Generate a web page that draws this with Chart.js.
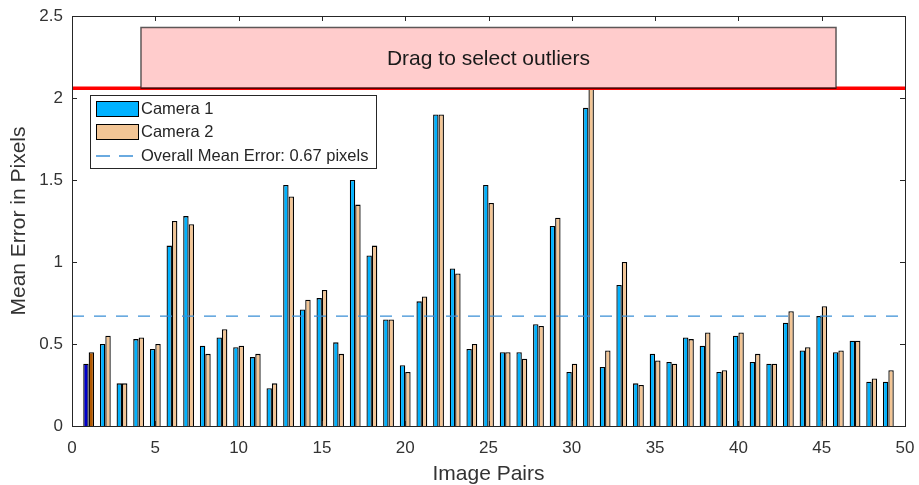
<!DOCTYPE html>
<html>
<head>
<meta charset="utf-8">
<script src="https://cdn.jsdelivr.net/npm/chart.js@4.4.1/dist/chart.umd.min.js"></script>
<style>
  body { margin: 0; background: #fff; }
  #wrap { width: 919px; height: 485px; }
</style>
</head>
<body>
<div id="wrap"><canvas id="errChart" width="919" height="485"></canvas></div>
<script>
// values
const imagePairs = [1, 2, 3, 4, 5, 6, 7, 8, 9, 10, 11, 12, 13, 14, 15, 16, 17, 18, 19, 20,
  21, 22, 23, 24, 25, 26, 27, 28, 29, 30, 31, 32, 33, 34, 35, 36, 37, 38, 39, 40,
  41, 42, 43, 44, 45, 46, 47, 48, 49];
const camera1Err = [0.38, 0.50, 0.26, 0.53, 0.47, 1.10, 1.28, 0.49, 0.54, 0.48,
  0.42, 0.23, 1.47, 0.71, 0.78, 0.51, 1.50, 1.04, 0.65, 0.37,
  0.76, 1.90, 0.96, 0.47, 1.47, 0.45, 0.45, 0.62, 1.22, 0.33,
  1.94, 0.36, 0.86, 0.26, 0.44, 0.39, 0.54, 0.49, 0.33, 0.55,
  0.39, 0.38, 0.63, 0.46, 0.67, 0.45, 0.52, 0.27, 0.27];
const camera2Err = [0.45, 0.55, 0.26, 0.54, 0.50, 1.25, 1.23, 0.44, 0.59, 0.49,
  0.44, 0.26, 1.40, 0.77, 0.83, 0.44, 1.35, 1.10, 0.65, 0.33,
  0.79, 1.90, 0.93, 0.50, 1.36, 0.45, 0.41, 0.61, 1.27, 0.38,
  2.06, 0.46, 1.00, 0.25, 0.40, 0.38, 0.53, 0.57, 0.34, 0.57,
  0.44, 0.38, 0.70, 0.48, 0.73, 0.46, 0.52, 0.29, 0.34];
const meanError = 0.67;
const outlierLevel = 2.06;
const selectBox = [4.14, 45.86, 2.06, 2.43]; // x0, x1, y0, y1 in data units
const xRange = [0, 50];
const yRange = [0, 2.5];

const selectedPair = 1;
const cam1Color = '#00b2ff', cam1Sel = '#0000cc';
const cam2Color = '#f2c595', cam2Sel = '#b35900';
const meanColor = '#3a8fd6';
const inkColor = '#333333';
const fontFam = '"Liberation Sans", Arial, sans-serif';

function pts(vals) {
  return imagePairs.map((p, i) => ({ x: p, y: vals[i] }));
}

// outlier band, legend, box and inward ticks
const overlay = {
  id: 'overlay',
  afterDatasetsDraw(chart) {
    const ctx = chart.ctx;
    const xs = chart.scales.x, ys = chart.scales.y;
    const a = chart.chartArea;

    // red threshold line
    const yr = ys.getPixelForValue(outlierLevel);
    ctx.save();
    ctx.strokeStyle = '#ff0000';
    ctx.lineWidth = 3.5;
    ctx.beginPath();
    ctx.moveTo(a.left, yr);
    ctx.lineTo(a.right, yr);
    ctx.stroke();

    // pink selection rectangle
    const rx0 = xs.getPixelForValue(selectBox[0]);
    const rx1 = xs.getPixelForValue(selectBox[1]);
    const ry0 = ys.getPixelForValue(selectBox[3]);
    const ry1 = ys.getPixelForValue(selectBox[2]);
    ctx.fillStyle = '#ffcccc';
    ctx.fillRect(rx0, ry0, rx1 - rx0, ry1 - ry0);
    ctx.strokeStyle = 'rgba(40,40,40,0.75)';
    ctx.lineWidth = 1.5;
    ctx.strokeRect(rx0, ry0, rx1 - rx0, ry1 - ry0);
    ctx.strokeStyle = 'rgba(90,0,0,0.9)';
    ctx.beginPath();
    ctx.moveTo(rx0, ry1);
    ctx.lineTo(rx1, ry1);
    ctx.stroke();
    ctx.fillStyle = '#1a1a1a';
    ctx.font = '21px ' + fontFam;
    ctx.textAlign = 'center';
    ctx.textBaseline = 'middle';
    ctx.fillText('Drag to select outliers', (rx0 + rx1) / 2, (ry0 + ry1) / 2 + 1);

    // legend
    const lx = a.left + 18, ly = a.top + 79;
    const lw = 286, lh = 73;
    ctx.fillStyle = '#ffffff';
    ctx.fillRect(lx, ly, lw, lh);
    ctx.strokeStyle = '#262626';
    ctx.lineWidth = 1;
    ctx.strokeRect(lx + 0.5, ly + 0.5, lw, lh);
    const items = [
      { label: 'Camera 1', color: cam1Color, cy: ly + 13 },
      { label: 'Camera 2', color: cam2Color, cy: ly + 36 }
    ];
    ctx.font = '16.5px ' + fontFam;
    ctx.textAlign = 'left';
    items.forEach(it => {
      ctx.fillStyle = it.color;
      ctx.fillRect(lx + 6, it.cy - 7, 42, 15);
      ctx.strokeStyle = '#000';
      ctx.lineWidth = 1;
      ctx.strokeRect(lx + 6.5, it.cy - 6.5, 42, 15);
      ctx.fillStyle = '#262626';
      ctx.fillText(it.label, lx + 51, it.cy + 1);
    });
    const dy = ly + 61;
    ctx.strokeStyle = meanColor;
    ctx.lineWidth = 1.4;
    ctx.setLineDash([14, 9]);
    ctx.beginPath();
    ctx.moveTo(lx + 6, dy);
    ctx.lineTo(lx + 48, dy);
    ctx.stroke();
    ctx.setLineDash([]);
    ctx.fillStyle = '#262626';
    ctx.fillText('Overall Mean Error: ' + meanError.toFixed(2) + ' pixels', lx + 51, dy);

    // axes box
    ctx.strokeStyle = '#262626';
    ctx.lineWidth = 1;
    ctx.strokeRect(Math.round(a.left) + 0.5, Math.round(a.top) + 0.5,
      Math.round(a.right - a.left), Math.round(a.bottom - a.top));

    // inward ticks on all sides
    const tl = 5;
    ctx.beginPath();
    xs.ticks.forEach(t => {
      const px = Math.round(xs.getPixelForValue(t.value)) + 0.5;
      ctx.moveTo(px, a.bottom); ctx.lineTo(px, a.bottom - tl);
      ctx.moveTo(px, a.top); ctx.lineTo(px, a.top + tl);
    });
    ys.ticks.forEach(t => {
      const py = Math.round(ys.getPixelForValue(t.value)) + 0.5;
      ctx.moveTo(a.left, py); ctx.lineTo(a.left + tl, py);
      ctx.moveTo(a.right, py); ctx.lineTo(a.right - tl, py);
    });
    ctx.stroke();
    ctx.restore();
  }
};

new Chart(document.getElementById('errChart'), {
  type: 'bar',
  data: {
    datasets: [
      {
        type: 'line',
        label: 'Overall Mean Error',
        data: [{ x: xRange[0], y: meanError }, { x: xRange[1], y: meanError }],
        borderColor: meanColor,
        borderWidth: 1.4,
        borderDash: [12, 10],
        pointRadius: 0,
        fill: false,
        order: 0
      },
      {
        label: 'Camera 1',
        data: pts(camera1Err),
        backgroundColor: imagePairs.map(p => p === selectedPair ? cam1Sel : cam1Color),
        borderColor: '#000',
        borderWidth: 1.3,
        order: 1
      },
      {
        label: 'Camera 2',
        data: pts(camera2Err),
        backgroundColor: imagePairs.map(p => p === selectedPair ? cam2Sel : cam2Color),
        borderColor: '#000',
        borderWidth: 1.3,
        order: 1
      }
    ]
  },
  options: {
    responsive: false,
    animation: false,
    devicePixelRatio: 1,
    categoryPercentage: 0.65,
    barPercentage: 1.0,
    layout: { padding: { top: 16, right: 14, left: 0, bottom: 0 } },
    plugins: {
      legend: { display: false },
      tooltip: { enabled: false }
    },
    scales: {
      x: {
        type: 'linear',
        min: xRange[0],
        max: xRange[1],
        offset: false,
        grid: { display: false, offset: false, drawTicks: false },
        border: { display: false },
        ticks: {
          stepSize: 5,
          padding: 12,
          color: inkColor,
          font: { family: fontFam, size: 17 }
        },
        title: {
          display: true,
          text: 'Image Pairs',
          color: inkColor,
          font: { family: fontFam, size: 21 },
          padding: { top: 0, bottom: -2 }
        },
        afterFit(s) {
          s.height = 59;
          s.paddingLeft = 0;
          s.paddingRight = 0;
        }
      },
      y: {
        min: yRange[0],
        max: yRange[1],
        grid: { display: false, drawTicks: false },
        border: { display: false },
        ticks: {
          stepSize: 0.5,
          padding: 9,
          color: inkColor,
          font: { family: fontFam, size: 17 },
          callback: v => String(Math.round(v * 10) / 10)
        },
        title: {
          display: true,
          text: 'Mean Error in Pixels',
          color: inkColor,
          font: { family: fontFam, size: 21 },
          padding: { top: 7, bottom: 0 }
        },
        afterFit(s) {
          s.width = 72;
          s.paddingTop = 0;
          s.paddingBottom = 0;
        }
      }
    }
  },
  plugins: [overlay]
});
</script>
</body>
</html>
